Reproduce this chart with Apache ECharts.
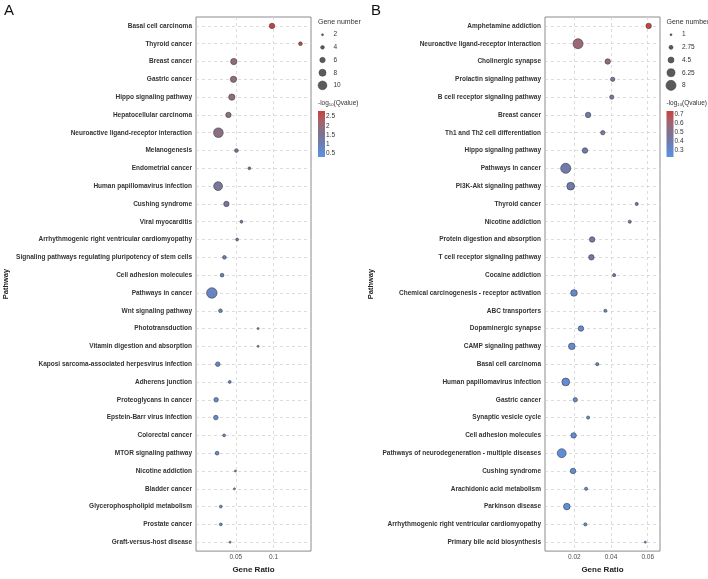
<!DOCTYPE html>
<html>
<head>
<meta charset="utf-8">
<script src="https://cdn.jsdelivr.net/npm/echarts@6/dist/echarts.min.js"></script>
<style>
  html, body { margin: 0; padding: 0; background: #fff; }
  #chart { width: 708px; height: 579px; }
</style>
</head>
<body>
<div id="chart"></div>
<script>
// panel A
const categoriesA = [
  'Basal cell carcinoma', 'Thyroid cancer', 'Breast cancer', 'Gastric cancer', 'Hippo signaling pathway',
  'Hepatocellular carcinoma', 'Neuroactive ligand-receptor interaction', 'Melanogenesis', 'Endometrial cancer',
  'Human papillomavirus infection', 'Cushing syndrome', 'Viral myocarditis',
  'Arrhythmogenic right ventricular cardiomyopathy', 'Signaling pathways regulating pluripotency of stem cells',
  'Cell adhesion molecules', 'Pathways in cancer', 'Wnt signaling pathway', 'Phototransduction',
  'Vitamin digestion and absorption', 'Kaposi sarcoma-associated herpesvirus infection', 'Adherens junction',
  'Proteoglycans in cancer', 'Epstein-Barr virus infection', 'Colorectal cancer', 'MTOR signaling pathway',
  'Nicotine addiction', 'Bladder cancer', 'Glycerophospholipid metabolism', 'Prostate cancer',
  'Graft-versus-host disease'
];
const ratioA = [0.098, 0.1357, 0.0473, 0.0469, 0.0447, 0.0402, 0.0269, 0.0508, 0.068, 0.0265,
  0.0375, 0.0575, 0.0517, 0.0349, 0.0318, 0.0182, 0.0296, 0.0796, 0.0796, 0.0261,
  0.042, 0.0239, 0.0235, 0.0345, 0.0252, 0.0495, 0.0482, 0.0301, 0.0301, 0.0424];
const countA = [6, 4, 7, 7, 7, 6, 11, 4, 3, 10, 6, 3, 3, 4, 4, 12, 4, 2, 2, 5, 3, 5, 5, 3, 4, 2, 2, 3, 3, 2];
const qA = [2.75, 2.7, 1.95, 1.95, 1.9, 1.85, 1.8, 1.5, 1.4, 1.4, 1.35, 1.2, 1.15, 0.85, 0.8, 0.78, 0.75,
  0.72, 0.72, 0.6, 0.58, 0.55, 0.52, 0.5, 0.5, 0.45, 0.45, 0.42, 0.42, 0.4];
const xTicksA = [0.05, 0.1];
const sizeLegendA = [2, 4, 6, 8, 10];
const colorTicksA = [2.5, 2, 1.5, 1, 0.5];

// panel B
const categoriesB = [
  'Amphetamine addiction', 'Neuroactive ligand-receptor interaction', 'Cholinergic synapse',
  'Prolactin signaling pathway', 'B cell receptor signaling pathway', 'Breast cancer',
  'Th1 and Th2 cell differentiation', 'Hippo signaling pathway', 'Pathways in cancer',
  'PI3K-Akt signaling pathway', 'Thyroid cancer', 'Nicotine addiction', 'Protein digestion and absorption',
  'T cell receptor signaling pathway', 'Cocaine addiction', 'Chemical carcinogenesis - receptor activation',
  'ABC transporters', 'Dopaminergic synapse', 'CAMP signaling pathway', 'Basal cell carcinoma',
  'Human papillomavirus infection', 'Gastric cancer', 'Synaptic vesicle cycle', 'Cell adhesion molecules',
  'Pathways of neurodegeneration - multiple diseases', 'Cushing syndrome', 'Arachidonic acid metabolism',
  'Parkinson disease', 'Arrhythmogenic right ventricular cardiomyopathy', 'Primary bile acid biosynthesis'
];
const ratioB = [0.0605, 0.022, 0.0382, 0.0409, 0.0404, 0.0275, 0.0355, 0.0258, 0.0153, 0.018,
  0.054, 0.0502, 0.0297, 0.0293, 0.0417, 0.0198, 0.0369, 0.0236, 0.0186, 0.0325,
  0.0153, 0.0205, 0.0275, 0.0196, 0.0131, 0.0193, 0.0264, 0.0159, 0.026, 0.0587];
const countB = [4, 8, 4, 3, 3, 4, 3, 4, 8, 6, 2, 2, 4, 4, 2, 5, 2, 4, 5, 2, 6, 3, 2, 4, 7, 4, 2, 5, 2, 1];
const qB = [0.72, 0.58, 0.55, 0.43, 0.43, 0.39, 0.39, 0.39, 0.4, 0.39, 0.4, 0.4, 0.41, 0.41, 0.35,
  0.28, 0.3, 0.27, 0.27, 0.28, 0.26, 0.26, 0.26, 0.25, 0.25, 0.24, 0.24, 0.23, 0.23, 0.22];
const xTicksB = [0.02, 0.04, 0.06];
const sizeLegendB = [1, 2.75, 4.5, 6.25, 8];
const colorTicksB = [0.7, 0.6, 0.5, 0.4, 0.3];

const FONT = '"Liberation Sans", Arial, sans-serif';
const gradientColors = ['#5b93e0', '#6a7fbc', '#7c7390', '#a0666f', '#c9403b'];
const sizeA = v => 2 + 0.85 * (v - 2);
const sizeB = v => 2 + 1.15 * (v - 1);

const panels = [
  { cats: categoriesA, ratio: ratioA, count: countA, q: qA, ticks: xTicksA, sizes: sizeLegendA,
    cticks: colorTicksA, size: sizeA, left: 196, xmin: -0.0028, xmax: 0.1497, qmin: 0.3, qmax: 2.8,
    legendX: 318, nameGap: 186, letter: 'A', letterX: 4 },
  { cats: categoriesB, ratio: ratioB, count: countB, q: qB, ticks: xTicksB, sizes: sizeLegendB,
    cticks: colorTicksB, size: sizeB, left: 545, xmin: 0.004, xmax: 0.0667, qmin: 0.22, qmax: 0.73,
    legendX: 666.5, nameGap: 170, letter: 'B', letterX: 371 }
];

const grids = [], xAxes = [], yAxes = [], series = [], visualMaps = [], graphics = [];

panels.forEach((p, i) => {
  grids.push({ left: p.left, top: 17, width: 115, height: 542, show: true,
    borderColor: '#8c8c8c', borderWidth: 1, backgroundColor: '#fff' });

  xAxes.push({
    type: 'value', gridIndex: i, min: p.xmin, max: p.xmax,
    splitLine: { show: false }, axisLine: { show: false }, axisTick: { show: false },
    axisLabel: { customValues: p.ticks, color: '#4d4d4d', fontSize: 6.5, fontFamily: FONT, margin: 3,
      formatter: v => String(+v.toFixed(4)) },
    name: 'Gene Ratio', nameLocation: 'middle', nameGap: 12,
    nameTextStyle: { fontSize: 8, fontWeight: 'bold', color: '#222', fontFamily: FONT }
  });

  yAxes.push({
    type: 'category', gridIndex: i, data: p.cats, inverse: true,
    axisLine: { show: false }, axisTick: { show: false }, splitLine: { show: false },
    axisLabel: { fontSize: 6.5, fontWeight: 'bold', color: '#333', fontFamily: FONT, margin: 4 },
    name: 'Pathway', nameLocation: 'middle', nameRotate: 90, nameGap: p.nameGap,
    nameTextStyle: { fontSize: 7.5, fontWeight: 'bold', color: '#222', fontFamily: FONT }
  });

  // dashed panel grid, kept under the dots
  series.push({
    type: 'scatter', xAxisIndex: i, yAxisIndex: i, data: [], silent: true, z: 1,
    markLine: {
      z: 1, silent: true, symbol: 'none', animation: false, label: { show: false },
      lineStyle: { color: '#d4d4d4', type: [3, 3], width: 0.8 },
      data: [...p.ticks.map(v => ({ xAxis: v })), ...p.cats.map((c, k) => ({ yAxis: k }))]
    }
  });

  series.push({
    type: 'scatter', xAxisIndex: i, yAxisIndex: i, z: 6,
    data: p.cats.map((c, k) => [p.ratio[k], c, p.count[k], p.q[k]]),
    symbolSize: val => p.size(val[2]),
    itemStyle: { borderColor: '#3a3a3a', borderWidth: 0.6, opacity: 1 }
  });

  visualMaps.push({
    type: 'continuous', show: false, seriesIndex: 2 * i + 1, dimension: 3,
    min: p.qmin, max: p.qmax, inRange: { color: gradientColors }
  });

  // panel letter
  graphics.push({ type: 'text', left: p.letterX, top: 3,
    style: { text: p.letter, fontSize: 15, fontFamily: FONT, fill: '#111' } });

  // size legend
  const lx = p.legendX;
  graphics.push({ type: 'text', x: lx, y: 22,
    style: { text: 'Gene number', fontSize: 7, fontFamily: FONT, fill: '#333', verticalAlign: 'middle' } });
  p.sizes.forEach((v, k) => {
    const y = 34.7 + k * 12.67;
    graphics.push({ type: 'circle', shape: { cx: lx + 4.5, cy: y, r: p.size(v) / 2 },
      style: { fill: '#5a5a5a', stroke: '#3a3a3a', lineWidth: 0.5 } });
    graphics.push({ type: 'text', x: lx + 15.5, y: y,
      style: { text: String(v), fontSize: 6.5, fontFamily: FONT, fill: '#333', verticalAlign: 'middle' } });
  });

  // colour legend
  graphics.push({ type: 'text', x: lx, y: 103.3,
    style: { rich: { t: { fontSize: 6.5, fontFamily: FONT, fill: '#333' },
      s: { fontSize: 4.2, fontFamily: FONT, fill: '#333', verticalAlign: 'bottom', padding: [4, 0, 0, 0] } },
      text: '{t|-log}{s|10}{t|(Qvalue)}', verticalAlign: 'middle' } });
  const barTop = 111, barH = 46;
  graphics.push({ type: 'rect', shape: { x: lx, y: barTop, width: 7, height: barH },
    style: { fill: new echarts.graphic.LinearGradient(0, 1, 0, 0,
      gradientColors.map((c, k) => ({ offset: k / (gradientColors.length - 1), color: c }))) } });
  p.cticks.forEach(v => {
    const y = barTop + (p.qmax - v) / (p.qmax - p.qmin) * barH;
    graphics.push({ type: 'text', x: lx + 8, y: y,
      style: { text: String(v), fontSize: 6.5, fontFamily: FONT, fill: '#333', verticalAlign: 'middle' } });
  });
});

const chart = echarts.init(document.getElementById('chart'), null, { renderer: 'canvas' });
chart.setOption({
  animation: false,
  grid: grids,
  xAxis: xAxes,
  yAxis: yAxes,
  visualMap: visualMaps,
  series: series,
  graphic: graphics
});
</script>
</body>
</html>
